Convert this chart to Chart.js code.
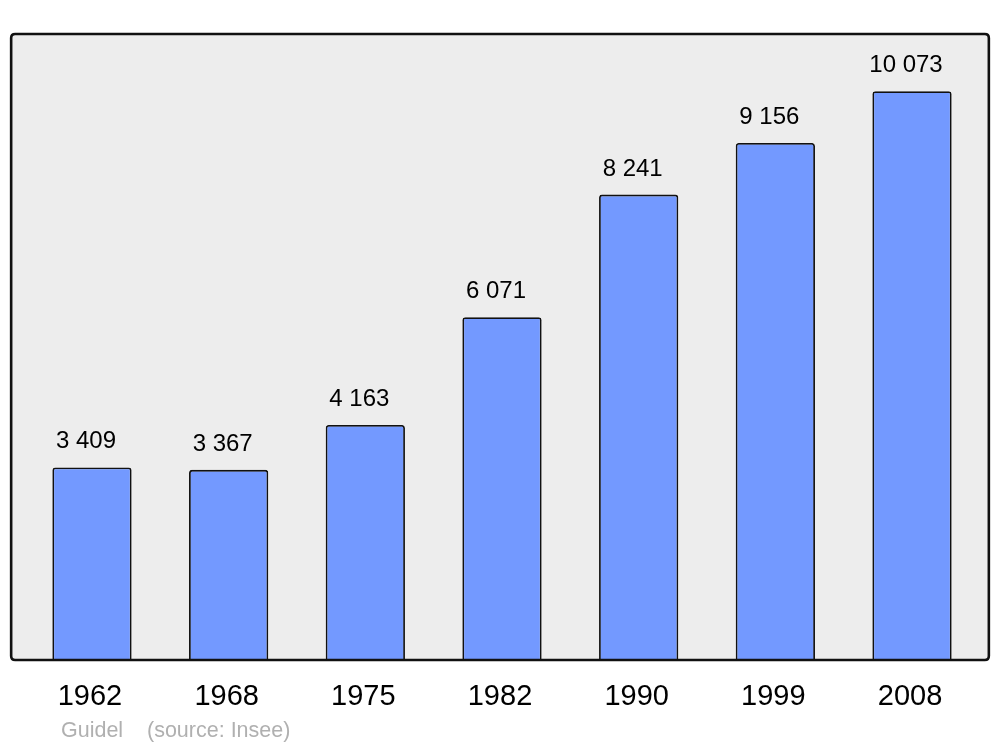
<!DOCTYPE html>
<html><head><meta charset="utf-8">
<script src="https://cdn.jsdelivr.net/npm/chart.js@4/dist/chart.umd.min.js"></script>
<style>html,body{margin:0;padding:0;background:#fff}#wrap{width:1000px;height:747px;position:relative}</style>
</head><body><div id="wrap"><canvas id="c" width="1000" height="747"></canvas></div>
<script>
const categories = ["1962","1968","1975","1982","1990","1999","2008"];
const population = [3409, 3367, 4163, 6071, 8241, 9156, 10073];
const valueLabels = ["3 409","3 367","4 163","6 071","8 241","9 156","10 073"];
const footerName = "Guidel";
const footerSource = "(source: Insee)";

const boxPlugin = {
  id: 'box',
  beforeDatasetsDraw(chart) {
    const {ctx, chartArea: a} = chart;
    ctx.save();
    ctx.fillStyle = '#ededed';
    roundRect(ctx, a.left - 12.5, a.top, a.right - a.left + 21, a.bottom - a.top, 4);
    ctx.fill();
    ctx.restore();
  },
  afterDatasetsDraw(chart) {
    const {ctx, chartArea: a} = chart;
    ctx.save();
    ctx.strokeStyle = '#111';
    ctx.lineWidth = 2.6;
    roundRect(ctx, a.left - 12.5, a.top, a.right - a.left + 21, a.bottom - a.top, 4);
    ctx.stroke();
    const meta = chart.getDatasetMeta(0);
    ctx.fillStyle = '#000';
    ctx.font = '24px "Liberation Sans", Arial, sans-serif';
    ctx.textAlign = 'center';
    ctx.textBaseline = 'alphabetic';
    meta.data.forEach((bar, i) => {
      ctx.fillText(valueLabels[i], bar.x - 6, bar.y - 19);
    });
    ctx.fillStyle = '#b0b0b0';
    ctx.font = '21.5px "Liberation Sans", Arial, sans-serif';
    ctx.textAlign = 'left';
    ctx.fillText(footerName, 61, 737);
    ctx.fillText(footerSource, 147, 737);
    ctx.restore();
  }
};
function roundRect(ctx, x, y, w, h, r) {
  ctx.beginPath();
  ctx.moveTo(x + r, y);
  ctx.lineTo(x + w - r, y);
  ctx.quadraticCurveTo(x + w, y, x + w, y + r);
  ctx.lineTo(x + w, y + h - r);
  ctx.quadraticCurveTo(x + w, y + h, x + w - r, y + h);
  ctx.lineTo(x + r, y + h);
  ctx.quadraticCurveTo(x, y + h, x, y + h - r);
  ctx.lineTo(x, y + r);
  ctx.quadraticCurveTo(x, y, x + r, y);
  ctx.closePath();
}

new Chart(document.getElementById('c'), {
  type: 'bar',
  data: {
    labels: categories,
    datasets: [{
      data: population,
      backgroundColor: '#7399ff',
      borderColor: '#111',
      borderWidth: 1.8,
      borderSkipped: 'bottom',
      borderRadius: {topLeft: 3, topRight: 3, bottomLeft: 0, bottomRight: 0},
      barPercentage: 0.58,
      categoryPercentage: 1.0
    }]
  },
  options: {
    responsive: false,
    animation: false,
    events: [],
    layout: {padding: {left: 23.65, right: 19.65, top: 34, bottom: 0}},
    plugins: {legend: {display: false}, tooltip: {enabled: false}},
    scales: {
      y: {display: false, min: 0, max: 11085},
      x: {
        grid: {display: false, drawTicks: false},
        border: {display: false},
        ticks: {
          color: '#000',
          padding: 20,
          labelOffset: -2,
          maxRotation: 0,
          font: {size: 29, family: '"Liberation Sans", Arial, sans-serif'}
        },
        afterFit(scale) { scale.height = 87; }
      }
    }
  },
  plugins: [boxPlugin]
});
</script></body></html>
